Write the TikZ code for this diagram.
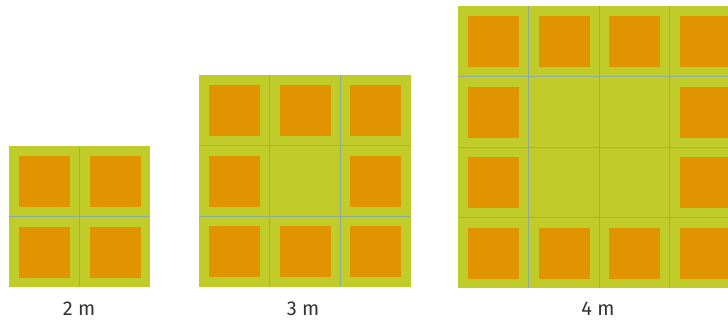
\documentclass[tikz,border=0pt]{standalone}
\usepackage{fontspec}
\setmainfont{Fira Sans}
\usetikzlibrary{positioning}
\definecolor{lawn}{RGB}{192,204,42}
\definecolor{tile}{RGB}{224,149,0}
\definecolor{seam}{RGB}{140,172,150}
\definecolor{ink}{RGB}{50,50,50}

\begin{document}
\begin{tikzpicture}[x=1pt,y=-1pt]
\useasboundingbox (0,0) rectangle (728,325);
\clip (0,0) rectangle (728,325);

% Patios: size / left / top
\foreach \n/\ox/\oy in {2/9/146, 3/199/75, 4/458/6} {
  \fill[lawn] (\ox,\oy) rectangle ++(\n*70.5,\n*70.5);
  % border tiles
  \foreach \i in {1,...,\n} {
    \foreach \j in {1,...,\n} {
      \pgfmathtruncatemacro\edge{(\i==1)||(\i==\n)||(\j==1)||(\j==\n)}
      \ifnum\edge=1
        \fill[tile] (\ox+\i*70.5-60.5,\oy+\j*70.5-60.5) rectangle ++(51,51);
      \fi
    }
  }
  % seams
  \pgfmathtruncatemacro\m{\n-1}
  \foreach \k in {1,...,\m} {
    \draw[seam, line width=0.8pt] (\ox+\k*70.5,\oy) -- ++(0,\n*70.5);
    \draw[seam, line width=0.8pt] (\ox,\oy+\k*70.5) -- ++(\n*70.5,0);
  }
}

% Labels
\tikzset{size label/.style={text=ink, font=\fontsize{20}{24}\selectfont}}
\node[size label] (lbl2) at (79,309) {2 m};
\node[size label] (lbl3) at (303,309) {3 m};
\node[size label] (lbl4) at (598,309) {4 m};
\end{tikzpicture}
\end{document}
